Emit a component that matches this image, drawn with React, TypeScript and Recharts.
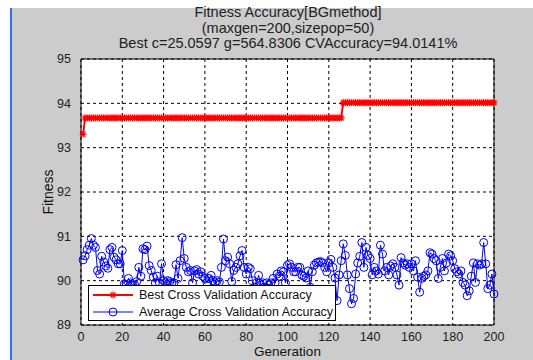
import React from 'react';
import {
  LineChart,
  Line,
  XAxis,
  YAxis,
  CartesianGrid,
  ReferenceLine,
  Label,
} from 'recharts';

// best fitness per generation (step curve)
const BEST_START = 93.3;
const BEST_MID = 93.67;
const BEST_END = 94.0141;
const BEST_JUMP_GEN = 127;

// average cross validation accuracy, generations 1..200
const avgAccuracy = [
  90.47, 90.56, 90.7, 90.8, 90.95, 90.8, 90.75, 90.23, 90.15, 90.55,
  90.42, 90.33, 90.28, 90.7, 90.75, 90.53, 90.47, 90.38, 90.38, 90.68,
  89.93, 89.9, 90.05, 89.95, 89.9, 89.9, 89.98, 90.3, 90.1, 90.72,
  90.7, 90.78, 90.34, 90.23, 90.08, 89.95, 90.1, 89.95, 90.38, 90.0,
  89.95, 90.0, 89.98, 89.95, 89.95, 90.36, 90.05, 90.45, 90.97, 90.5,
  90.3, 90.2, 90.23, 89.95, 90.22, 90.25, 90.15, 90.2, 90.1, 90.05,
  89.95, 90.05, 90.12, 90.0, 89.95, 90.0, 89.97, 90.3, 90.94, 90.45,
  90.53, 90.38, 89.98, 90.23, 90.3, 90.38, 90.56, 90.68, 90.3, 90.15,
  90.3, 90.27, 90.0, 89.85, 89.95, 90.12, 89.9, 89.95, 89.85, 89.95,
  89.9, 89.95, 90.05, 89.95, 90.15, 90.1, 90.22, 90.2, 89.95, 90.35,
  90.38, 90.3, 90.2, 90.2, 90.3, 90.3, 90.12, 90.1, 90.06, 90.22,
  89.85, 90.2, 90.35, 90.4, 90.42, 90.43, 90.4, 90.3, 90.2, 90.4,
  90.48, 90.3, 90.06, 89.55, 90.13, 90.45, 90.83, 90.57, 90.13, 89.82,
  89.48, 89.6, 90.15, 90.4, 90.55, 90.86, 90.3, 90.75, 90.57, 90.5,
  90.13, 90.3, 90.22, 90.15, 90.8, 90.6, 90.22, 90.3, 90.13, 90.33,
  90.38, 90.3, 90.13, 89.9, 90.52, 90.4, 90.35, 90.38, 90.3, 90.38,
  90.22, 90.45, 90.08, 89.74, 90.05, 90.1, 90.13, 90.22, 90.63, 90.6,
  90.5, 90.45, 90.05, 90.3, 90.5, 90.22, 90.4, 90.6, 90.56, 90.45,
  90.27, 90.2, 90.15, 90.22, 89.96, 89.9, 89.66, 89.77, 90.1, 90.4,
  89.96, 90.38, 90.35, 90.38, 90.86, 90.38, 89.82, 89.9, 90.15, 89.7,
];

const xTicks = [0, 20, 40, 60, 80, 100, 120, 140, 160, 180, 200];
const yTicks = [89, 90, 91, 92, 93, 94, 95];

const titleLines = [
  'Fitness Accuracy[BGmethod]',
  '(maxgen=200,sizepop=50)',
  'Best c=25.0597 g=564.8306 CVAccuracy=94.0141%',
];

const legendItems = [
  { label: 'Best Cross Validation Accuracy', color: '#ff0000', star: true },
  { label: 'Average Cross Validation Accuracy', color: '#0000ff', star: false },
];

const data = avgAccuracy.map((avg, i) => {
  const gen = i + 1;
  const best = gen === 1 ? BEST_START : gen < BEST_JUMP_GEN ? BEST_MID : BEST_END;
  return { gen, best, avg };
});

const FONT = '"Liberation Sans", Arial, sans-serif';
const TICK = { fill: '#222', fontSize: 12.5, fontFamily: FONT };

function StarDot(props: any) {
  const { cx, cy } = props;
  if (cx == null || cy == null) return null;
  const r = 3.5;
  const d = 2.5;
  return (
    <g stroke="#ff0000" strokeWidth={1.2}>
      <line x1={cx - r} y1={cy} x2={cx + r} y2={cy} />
      <line x1={cx} y1={cy - r} x2={cx} y2={cy + r} />
      <line x1={cx - d} y1={cy - d} x2={cx + d} y2={cy + d} />
      <line x1={cx - d} y1={cy + d} x2={cx + d} y2={cy - d} />
    </g>
  );
}

function LegendBox() {
  return (
    <div
      style={{
        position: 'absolute',
        left: 88,
        top: 285,
        width: 248,
        height: 36,
        background: '#fff',
        border: '1px solid #000',
        boxSizing: 'border-box',
        fontFamily: FONT,
        fontSize: 12.5,
        color: '#111',
        paddingTop: 1,
      }}
    >
      {legendItems.map((r) => (
        <div key={r.label} style={{ display: 'flex', alignItems: 'center', height: 16.5 }}>
          <svg width={50} height={16} style={{ flexShrink: 0 }}>
            <line x1={4} y1={8} x2={44} y2={8} stroke={r.color} strokeWidth={r.star ? 2 : 1} />
            {r.star ? (
              <StarDot cx={24} cy={8} />
            ) : (
              <circle cx={24} cy={8} r={4} stroke={r.color} fill="none" />
            )}
          </svg>
          <span style={{ whiteSpace: 'nowrap' }}>{r.label}</span>
        </div>
      ))}
    </div>
  );
}

export default function App() {
  return (
    <div style={{ position: 'fixed', left: 0, top: 0, width: 533, height: 360, background: '#fff' }}>
      {/* figure background */}
      <div style={{ position: 'absolute', left: 12, top: 8, right: 0, bottom: 0, background: '#cccccc' }} />
      <div style={{ position: 'absolute', left: 10, top: 8, width: 2, bottom: 0, background: '#2f6fe4' }} />

      {/* title */}
      <div
        style={{
          position: 'absolute',
          left: 82,
          width: 412,
          top: 5,
          textAlign: 'center',
          fontFamily: FONT,
          fontSize: 14.5,
          lineHeight: '15.5px',
          color: '#222',
        }}
      >
        {titleLines.map((t) => (
          <div key={t} style={{ whiteSpace: 'nowrap' }}>{t}</div>
        ))}
      </div>

      <div style={{ position: 'absolute', left: 0, top: 0 }}>
        <LineChart
          width={533}
          height={360}
          data={data}
          margin={{ top: 59, right: 39, bottom: 5, left: 51 }}
        >
          <CartesianGrid
            stroke="#000"
            strokeDasharray="3 3"
            fill="#fff"
            fillOpacity={1}
            horizontalValues={yTicks}
            verticalValues={xTicks}
          />
          <XAxis
            dataKey="gen"
            type="number"
            domain={[0, 200]}
            ticks={xTicks}
            tick={TICK}
            tickLine={false}
            axisLine={{ stroke: '#000' }}
            height={30}
            tickMargin={1}
            interval={0}
          >
            <Label
              value="Generation"
              position="insideBottom"
              offset={-1}
              style={{ fill: '#111', fontSize: 13.5, fontFamily: FONT }}
            />
          </XAxis>
          <YAxis
            type="number"
            domain={[89, 95]}
            ticks={yTicks}
            tick={TICK}
            tickLine={false}
            axisLine={{ stroke: '#000' }}
            width={30}
            tickMargin={4}
            interval={0}
          >
            <Label
              value="Fitness"
              angle={-90}
              position="insideLeft"
              offset={-3}
              style={{ fill: '#111', fontSize: 14, fontFamily: FONT, textAnchor: 'middle' }}
            />
          </YAxis>
          <ReferenceLine y={95} stroke="#000" />
          <ReferenceLine x={200} stroke="#000" />
          <Line
            dataKey="best"
            name="Best Cross Validation Accuracy"
            stroke="#ff0000"
            strokeWidth={2}
            dot={<StarDot />}
            activeDot={false}
            isAnimationActive={false}
            type="linear"
          />
          <Line
            dataKey="avg"
            name="Average Cross Validation Accuracy"
            stroke="#0000ff"
            strokeWidth={1}
            dot={{ r: 4, stroke: '#0000ff', strokeWidth: 1, fill: 'none' }}
            activeDot={false}
            isAnimationActive={false}
            type="linear"
          />
        </LineChart>
      </div>
      <LegendBox />
    </div>
  );
}
